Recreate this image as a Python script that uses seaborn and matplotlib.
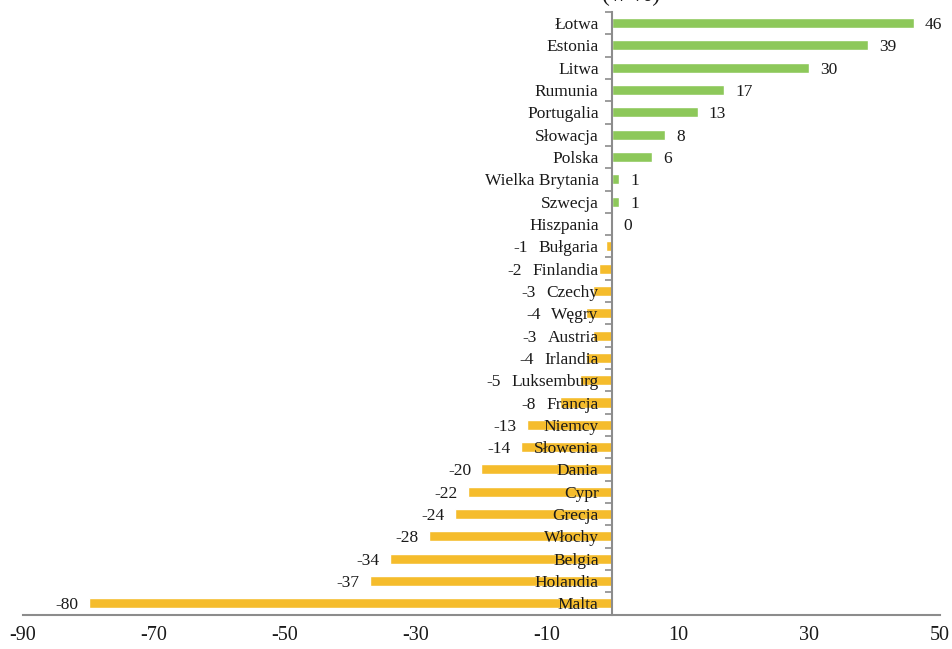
import matplotlib
matplotlib.use("Agg")
import matplotlib.pyplot as plt
from matplotlib.ticker import FixedLocator
import seaborn as sns
import pandas as pd
import numpy as np

countries = ["Łotwa", "Estonia", "Litwa", "Rumunia", "Portugalia", "Słowacja", "Polska",
             "Wielka Brytania", "Szwecja", "Hiszpania", "Bułgaria", "Finlandia", "Czechy",
             "Węgry", "Austria", "Irlandia", "Luksemburg", "Francja", "Niemcy", "Słowenia",
             "Dania", "Cypr", "Grecja", "Włochy", "Belgia", "Holandia", "Malta"]
values = [46, 39, 30, 17, 13, 8, 6, 1, 1, 0, -1, -2, -3, -4, -3, -4, -5, -8, -13, -14,
          -20, -22, -24, -28, -34, -37, -80]
x_ticks = [-90, -70, -50, -30, -10, 10, 30, 50]

GREEN = "#8DC85A"
YELLOW = "#F5BC2C"
GREY = "#8C8C8C"
TEXT = "#1a1a1a"

df = pd.DataFrame({"kraj": countries, "zmiana": values})
df["znak"] = np.where(df["zmiana"] >= 0, "plus", "minus")

sns.set_theme(style="white")
plt.rcParams["font.family"] = ["Liberation Serif", "DejaVu Serif"]

W, H = 953, 649
fig = plt.figure(figsize=(W / 100, H / 100), dpi=100)
ax = fig.add_axes([23 / W, 1 - 614.5 / H, (940 - 23) / W, (614.5 - 12) / H])

sns.barplot(data=df, x="zmiana", y="kraj", hue="znak", order=countries,
            palette={"plus": GREEN, "minus": YELLOW}, dodge=False, width=0.45,
            orient="h", legend=False, saturation=1, ax=ax)

ax.set_xlim(-90, 50)
ax.set_ylim(len(countries) - 0.5, -0.5)
ax.set_xlabel("")
ax.set_ylabel("")
ax.set_axisbelow(False)

# axes frame: vertical axis at zero, horizontal axis at the bottom
for s in ["top", "right"]:
    ax.spines[s].set_visible(False)
ax.spines["left"].set_position(("data", 0))
for s in ["left", "bottom"]:
    ax.spines[s].set_color(GREY)
    ax.spines[s].set_linewidth(1.5)

ax.xaxis.set_major_locator(FixedLocator(x_ticks))
ax.set_xticklabels([str(t) for t in x_ticks])
ax.tick_params(axis="x", which="major", direction="out", length=5, width=1.2,
               color=GREY, labelsize=14.5, pad=3.5, labelcolor=TEXT)

ax.yaxis.set_minor_locator(FixedLocator(np.arange(-0.5, len(countries), 1.0)))
ax.tick_params(axis="y", which="major", length=0, pad=10, labelsize=12.5,
               labelcolor=TEXT)
ax.tick_params(axis="y", which="minor", direction="out", length=5, width=1.2,
               color=GREY, left=True)
for lab in ax.get_yticklabels():
    lab.set_verticalalignment("center_baseline")
ax.grid(False)

# title line, running off the top edge
fig.text(631 / W, 1 - 1 / H, "(w %)", ha="center", va="baseline",
         fontsize=17, color=TEXT)

fig.canvas.draw()
renderer = fig.canvas.get_renderer()
inv = ax.transData.inverted()
labels = {t.get_text(): t for t in ax.get_yticklabels()}

for i, (name, v) in enumerate(zip(countries, values)):
    if v >= 0:
        ax.annotate(str(v), xy=(v, i), xytext=(8, 0), textcoords="offset points",
                    ha="left", va="center_baseline", fontsize=12.5, color=TEXT)
    else:
        bb = labels[name].get_window_extent(renderer)
        left_data = inv.transform((bb.x0, bb.y0))[0]
        anchor = min(v, left_data)
        ax.annotate(str(v), xy=(anchor, i), xytext=(-7.5, 0), textcoords="offset points",
                    ha="right", va="center_baseline", fontsize=12.5, color=TEXT)

fig.savefig("out.png", dpi=100)
